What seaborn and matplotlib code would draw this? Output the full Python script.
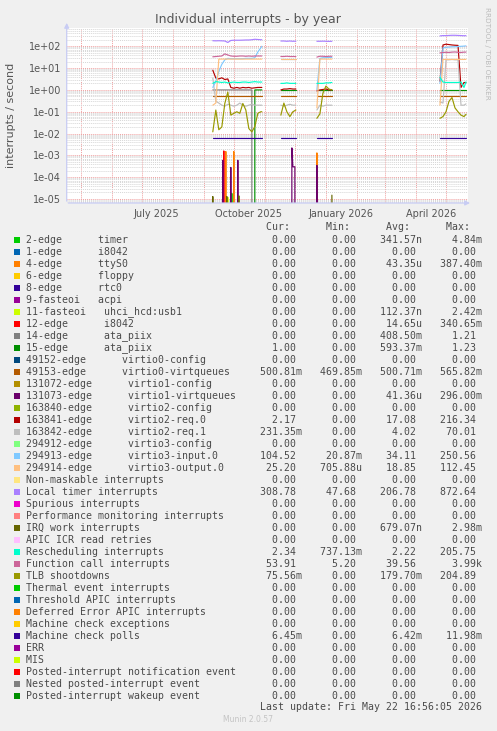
import numpy as np
import pandas as pd
import seaborn as sns
import matplotlib
matplotlib.use('Agg')
import matplotlib.pyplot as plt
import matplotlib.ticker as mticker
import matplotlib.dates as mdates
from matplotlib.patches import Rectangle

# ---- data (interrupts / second) ----
# the host only reported in four stretches, so the lines have gaps
seg1_dates = ['2025-09-10', '2025-09-13', '2025-09-16', '2025-09-19', '2025-09-22', '2025-09-25',
              '2025-09-28', '2025-10-01', '2025-10-04', '2025-10-07', '2025-10-10', '2025-10-13',
              '2025-10-16', '2025-10-19', '2025-10-22', '2025-10-25', '2025-10-28', '2025-10-29']
seg2_dates = ['2025-11-17', '2025-11-20', '2025-11-23', '2025-11-26', '2025-11-29', '2025-12-02']
seg3_dates = ['2025-12-23', '2025-12-26', '2025-12-29', '2026-01-01', '2026-01-04', '2026-01-07']
seg4_dates = ['2026-04-25', '2026-04-28', '2026-05-01', '2026-05-04', '2026-05-07', '2026-05-10',
              '2026-05-13', '2026-05-16', '2026-05-19', '2026-05-21']

ata14 = [1.0, 1.0, 1.0, 1.0, 1.0, 1.0, 1.0, 1.0, 1.0, 1.0, 1.0, 1.0, 1.0, 1.0, 0, 0, 0, 0,
         0, 0, 0, 0, 0, 0,
         0, 0, 0, 0, 0, 0,
         0, 0, 0, 0, 0, 0, 0, 0, 0, 0]
ata15 = [0, 0, 0, 0, 0, 0, 0, 0, 0, 0, 0, 0, 0, 0, 1.0, 1.0, 1.0, 1.0,
         1.0, 1.0, 1.0, 1.0, 1.0, 1.0,
         1.0, 1.0, 1.0, 1.0, 1.0, 1.0,
         1.0, 1.0, 1.0, 1.0, 1.0, 1.0, 1.0, 1.0, 1.0, 1.0]
virtio0_vq = [0.50, 0.50, 0.50, 0.50, 0.50, 0.50, 0.50, 0.50, 0.50, 0.50, 0.50, 0.50, 0.50, 0.50, 0.50, 0.50, 0.50, 0.50,
              0.50, 0.50, 0.50, 0.50, 0.50, 0.50,
              0.50, 0.50, 0.50, 0.50, 0.50, 0.50,
              0.50, 0.50, 0.50, 0.50, 0.50, 0.50, 0.50, 0.50, 0.50, 0.50]
virtio2_req0 = [8.0, 3.5, 3.2, 3.6, 3.0, 3.2, 1.3, 1.2, 1.3, 1.2, 1.3, 1.25, 1.3, 1.2, 1.25, 1.3, 1.3, 1.3,
                1.0, 1.1, 1.1, 1.15, 1.1, 1.1,
                0.9, 1.0, 1.05, 1.1, 1.0, 1.0,
                2.5, 115, 125, 120, 115, 112, 110, 1.3, 2.2, 2.17]
virtio2_req1 = [3.5, 0.3, 0.25, 0.2, 0.18, 0.22, 0.2, 0.18, 0.2, 0.25, 0.2, 0.18, 0.2, 0.22, 0.2, 0.2, 0.2, 0.2,
                0.2, 0.18, 0.2, 0.22, 0.2, 0.2,
                0.12, 0.2, 0.18, 0.2, 0.2, 0.2,
                0.28, 0.25, 24, 24, 25, 24, 24, 0.2, 0.2, 0.23]
virtio3_in = [1.3, 2.5, 7, 15, 24, 28, 27, 27, 27, 27, 27, 28, 28, 28, 30, 55, 85, 100,
              27, 27, 27, 27, 27, 27,
              1.0, 28, 30, 30, 31, 31,
              2.0, 85, 90, 92, 95, 95, 98, 100, 102, 104.5]
virtio3_out = [0.2, 0.25, 26, 26, 26, 26, 26, 26, 26, 26, 26, 26, 26, 26, 26, 26, 26, 26,
               26, 26, 26, 26, 26, 26,
               0.15, 26, 26, 26, 26, 26,
               0.2, 25, 25, 25, 25, 25, 25, 25, 25, 25.2]
local_timer = [180, 178, 180, 178, 175, 150, 185, 190, 190, 190, 192, 195, 195, 200, 210, 205, 200, 200,
               175, 175, 170, 175, 170, 172,
               170, 170, 172, 170, 168, 170,
               300, 310, 310, 315, 320, 320, 315, 310, 305, 308]
resched = [2.0, 2.4, 2.3, 2.2, 2.3, 2.1, 2.2, 2.3, 2.2, 2.2, 2.3, 2.3, 2.2, 2.3, 2.4, 2.3, 2.3, 2.3,
           2.0, 2.0, 2.1, 2.0, 2.0, 2.0,
           2.0, 2.0, 2.0, 2.1, 2.1, 2.2,
           3.8, 2.3, 2.2, 2.2, 2.2, 2.2, 2.2, 2.3, 1.3, 2.34]
func_call = [33, 34, 35, 36, 45, 40, 36, 35, 35, 36, 36, 35, 36, 35, 36, 36, 36, 36,
             34, 34, 35, 34, 34, 34,
             32, 35, 35, 34, 35, 35,
             50, 52, 53, 52, 54, 55, 53, 52, 54, 54]
tlb = [0.012, 0.12, 0.015, 0.02, 0.24, 0.8, 0.07, 0.085, 0.1, 0.085, 0.24, 0.12, 0.017, 0.012, 0.021, 0.085, 0.1, 0.1,
       0.07, 0.25, 0.1, 0.06, 0.1, 0.12,
       0.05, 0.08, 0.7, 1.5, 1.1, 1.0,
       0.05, 0.06, 0.1, 0.3, 0.45, 0.15, 0.1, 0.07, 0.06, 0.076]
mc_polls = [0.0065, 0.0065, 0.0065, 0.0065, 0.0065, 0.0065, 0.0065, 0.0065, 0.0065, 0.0065, 0.0065, 0.0065,
            0.0065, 0.0065, 0.0065, 0.0065, 0.0065, 0.0065,
            0.0065, 0.0065, 0.0065, 0.0065, 0.0065, 0.0065,
            0.0065, 0.0065, 0.0065, 0.0065, 0.0065, 0.0065,
            0.0065, 0.0065, 0.0065, 0.0065, 0.0065, 0.0065, 0.0065, 0.0065, 0.0065, 0.0065]

# short spikes near the bottom
timer_dates = ['2025-09-28', '2025-09-29', '2025-09-30']
timer_vals = [0, 1.8e-5, 0]
ttys0_dates = ['2025-09-22', '2025-09-23', '2025-09-24', '2025-09-30', '2025-10-01', '2025-10-02',
               '2025-12-22', '2025-12-23', '2025-12-24']
ttys0_vals = [0, 1.5e-3, 0, 0, 1.5e-3, 0, 0, 1.3e-3, 0]
usb_dates = ['2025-09-24', '2025-09-25', '2025-09-26']
usb_vals = [0, 1.2e-5, 0]
i8042_dates = ['2025-09-20', '2025-09-21', '2025-09-22']
i8042_vals = [0, 1.6e-3, 0]
virtio1_dates = ['2025-09-19', '2025-09-20', '2025-09-21', '2025-09-27', '2025-09-28', '2025-09-29',
                 '2025-10-04', '2025-10-05', '2025-10-06', '2025-11-27', '2025-11-28', '2025-11-29',
                 '2025-12-01', '2025-12-02', '2025-12-22', '2025-12-23', '2025-12-24']
virtio1_vals = [0, 6e-4, 0, 0, 2.8e-4, 0, 0, 6e-4, 0, 0, 2.2e-3, 3e-4, 3e-4, 0, 0, 3.5e-4, 0]
irqwork_dates = ['2025-09-09', '2025-09-10', '2025-09-11', '2025-09-23', '2025-09-24', '2025-09-25',
                 '2025-10-05', '2025-10-06', '2025-10-07', '2026-01-06', '2026-01-07']
irqwork_vals = [0, 1.3e-5, 0, 0, 1.3e-5, 0, 0, 1.4e-5, 0, 0, 1.5e-5]

# ---- legend table ----
names = ['2-edge      timer', '1-edge      i8042', '4-edge      ttyS0', '6-edge      floppy',
         '8-edge      rtc0', '9-fasteoi   acpi', '11-fasteoi   uhci_hcd:usb1', '12-edge      i8042',
         '14-edge      ata_piix', '15-edge      ata_piix', '49152-edge      virtio0-config',
         '49153-edge      virtio0-virtqueues', '131072-edge      virtio1-config',
         '131073-edge      virtio1-virtqueues', '163840-edge      virtio2-config',
         '163841-edge      virtio2-req.0', '163842-edge      virtio2-req.1',
         '294912-edge      virtio3-config', '294913-edge      virtio3-input.0',
         '294914-edge      virtio3-output.0', 'Non-maskable interrupts', 'Local timer interrupts',
         'Spurious interrupts', 'Performance monitoring interrupts', 'IRQ work interrupts',
         'APIC ICR read retries', 'Rescheduling interrupts', 'Function call interrupts',
         'TLB shootdowns', 'Thermal event interrupts', 'Threshold APIC interrupts',
         'Deferred Error APIC interrupts', 'Machine check exceptions', 'Machine check polls',
         'ERR', 'MIS', 'Posted-interrupt notification event', 'Nested posted-interrupt event',
         'Posted-interrupt wakeup event']
colors = ['#00CC00', '#0066B3', '#FF8000', '#FFCC00', '#330099', '#990099', '#CCFF00', '#FF0000',
          '#808080', '#008F00', '#00487D', '#B35A00', '#B38F00', '#6B006B', '#8FB300', '#B30000',
          '#BEBEBE', '#80FF80', '#80C9FF', '#FFC080', '#FFE680', '#AA80FF', '#EE00CC', '#FF8080',
          '#666600', '#FFBFFF', '#00FFCC', '#CC6699', '#999900', '#00CC00', '#0066B3', '#FF8000',
          '#FFCC00', '#330099', '#990099', '#CCFF00', '#FF0000', '#808080', '#008F00']
cur = ['0.00', '0.00', '0.00', '0.00', '0.00', '0.00', '0.00', '0.00', '0.00', '1.00', '0.00',
       '500.81m', '0.00', '0.00', '0.00', '2.17', '231.35m', '0.00', '104.52', '25.20', '0.00',
       '308.78', '0.00', '0.00', '0.00', '0.00', '2.34', '53.91', '75.56m', '0.00', '0.00', '0.00',
       '0.00', '6.45m', '0.00', '0.00', '0.00', '0.00', '0.00']
mins = ['0.00', '0.00', '0.00', '0.00', '0.00', '0.00', '0.00', '0.00', '0.00', '0.00', '0.00',
        '469.85m', '0.00', '0.00', '0.00', '0.00', '0.00', '0.00', '20.87m', '705.88u', '0.00',
        '47.68', '0.00', '0.00', '0.00', '0.00', '737.13m', '5.20', '0.00', '0.00', '0.00', '0.00',
        '0.00', '0.00', '0.00', '0.00', '0.00', '0.00', '0.00']
avgs = ['341.57n', '0.00', '43.35u', '0.00', '0.00', '0.00', '112.37n', '14.65u', '408.50m',
        '593.37m', '0.00', '500.71m', '0.00', '41.36u', '0.00', '17.08', '4.02', '0.00', '34.11',
        '18.85', '0.00', '206.78', '0.00', '0.00', '679.07n', '0.00', '2.22', '39.56', '179.70m',
        '0.00', '0.00', '0.00', '0.00', '6.42m', '0.00', '0.00', '0.00', '0.00', '0.00']
maxs = ['4.84m', '0.00', '387.40m', '0.00', '0.00', '0.00', '2.42m', '340.65m', '1.21', '1.23',
        '0.00', '565.82m', '0.00', '296.00m', '0.00', '216.34', '70.01', '0.00', '250.56', '112.45',
        '0.00', '872.64', '0.00', '0.00', '2.98m', '0.00', '205.75', '3.99k', '204.89', '0.00',
        '0.00', '0.00', '0.00', '11.98m', '0.00', '0.00', '0.00', '0.00', '0.00']

x_tick_dates = ['2025-07-16', '2025-10-16', '2026-01-16', '2026-04-16']
x_tick_labels = ['July 2025', 'October 2025', 'January 2026', 'April 2026']

# ---- build long table ----
seg_dates = [seg1_dates, seg2_dates, seg3_dates, seg4_dates]
grid_dates = [d for s in seg_dates for d in s]
grid_unit = [i for i, s in enumerate(seg_dates) for _ in s]

dense = {
    '14-edge': ata14, '15-edge': ata15, '49153-edge': virtio0_vq,
    '163841-edge': virtio2_req0, '163842-edge': virtio2_req1,
    '294913-edge': virtio3_in, '294914-edge': virtio3_out,
    'Local timer': local_timer, 'Rescheduling': resched, 'Function call': func_call,
    'TLB': tlb, 'MC polls': mc_polls,
}
sparse = {
    '2-edge': (timer_dates, timer_vals), '4-edge': (ttys0_dates, ttys0_vals),
    '11-fasteoi': (usb_dates, usb_vals), '12-edge': (i8042_dates, i8042_vals),
    '131073-edge': (virtio1_dates, virtio1_vals), 'IRQ work': (irqwork_dates, irqwork_vals),
}
palette = {'2-edge': '#00CC00', '4-edge': '#FF8000', '11-fasteoi': '#CCFF00', '12-edge': '#FF0000',
           '14-edge': '#808080', '15-edge': '#008F00', '49153-edge': '#B35A00',
           '131073-edge': '#6B006B', '163841-edge': '#B30000', '163842-edge': '#BEBEBE',
           '294913-edge': '#80C9FF', '294914-edge': '#FFC080', 'Local timer': '#AA80FF',
           'IRQ work': '#666600', 'Rescheduling': '#00FFCC', 'Function call': '#CC6699',
           'TLB': '#999900', 'MC polls': '#330099'}
draw_order = list(palette.keys())

frames = []
for name, vals in dense.items():
    frames.append(pd.DataFrame({'date': pd.to_datetime(grid_dates), 'value': vals,
                                'series': name, 'unit': grid_unit}))
for name, (d, v) in sparse.items():
    frames.append(pd.DataFrame({'date': pd.to_datetime(d), 'value': v, 'series': name, 'unit': 0}))
df = pd.concat(frames, ignore_index=True)

# ---- style ----
sns.set_theme(style='white')
plt.rcParams['font.family'] = ['DejaVu Sans']
txt = '#555555'
W, H = 497, 731

fig = plt.figure(figsize=(W / 100, H / 100), dpi=100, facecolor='#F0F0F0')
ax = fig.add_axes([66.7 / W, 1 - 203 / H, 401.3 / W, 175 / H])
ax.set_facecolor('white')

sns.lineplot(data=df, x='date', y='value', hue='series', units='unit', estimator=None,
             hue_order=draw_order, palette=palette, legend=False, linewidth=0.85, ax=ax)

ax.set_yscale('log')
ax.set_ylim(10 ** -5.183, 10 ** 2.839)
ax.set_xlim(pd.Timestamp('2025-04-17'), pd.Timestamp('2026-05-23'))
ax.set_xlabel('')
ax.set_ylabel('')

ax.yaxis.set_major_locator(mticker.FixedLocator([1e-5, 1e-4, 1e-3, 1e-2, 1e-1, 1e0, 1e1, 1e2]))
ax.yaxis.set_major_formatter(mticker.FuncFormatter(lambda v, p: f'{v:.0e}'))
ax.yaxis.set_minor_locator(mticker.LogLocator(base=10, subs=np.arange(2, 10), numticks=30))
ax.yaxis.set_minor_formatter(mticker.NullFormatter())

ax.set_xticks(pd.to_datetime(x_tick_dates))
ax.set_xticklabels(x_tick_labels)
ax.xaxis.set_minor_locator(mdates.MonthLocator())

dot = (0, (1, 1))
ax.yaxis.grid(True, which='minor', color='#D6D6D6', linestyle=dot, linewidth=0.7)
ax.yaxis.grid(True, which='major', color='#F0A0A0', linestyle=dot, linewidth=0.7)
ax.xaxis.grid(True, which='minor', color='#F0A0A0', linestyle=dot, linewidth=0.7)
ax.xaxis.grid(False, which='major')
ax.set_axisbelow(True)
ax.tick_params(which='both', length=0, colors=txt, labelsize=7)
ax.tick_params(axis='y', pad=4)
ax.tick_params(axis='x', pad=4)
for s in ax.spines.values():
    s.set_visible(False)

axis_col = '#C8CCF4'
ax.annotate('', xy=(0, 1.045), xytext=(0, -0.005), xycoords='axes fraction',
            arrowprops=dict(arrowstyle='-|>', color=axis_col, lw=0.9, mutation_scale=7))
ax.annotate('', xy=(1.012, 0), xytext=(-0.003, 0), xycoords='axes fraction',
            arrowprops=dict(arrowstyle='-|>', color=axis_col, lw=0.9, mutation_scale=7))

fig.text(248 / W, 1 - 19.3 / H, 'Individual interrupts - by year', ha='center', va='center',
         fontsize=9, color=txt)
fig.text(11 / W, 1 - 115 / H, 'interrupts / second', rotation=90, ha='center', va='center',
         fontsize=8, color=txt)
fig.text(487.5 / W, 1 - 53 / H, 'RRDTOOL / TOBI OETIKER', rotation=270, ha='center', va='center',
         fontsize=5.2, color='#BBBBBB')

# ---- legend table in monospace ----
def fld(v):
    s = v if not v[-1].isdigit() else v + ' '
    return s.rjust(10)

mono = dict(family='DejaVu Sans Mono', fontsize=7.15, color='#4A4A4A', va='center', ha='left')
x0 = 26.3 / W
header = ' ' * 36 + ''.join(h.rjust(8) + '  ' for h in ['Cur:', 'Min:', 'Avg:', 'Max:'])
fig.text(x0, 1 - 227.3 / H, header, **mono)
for i, name in enumerate(names):
    y = 239.7 + 12 * i
    row = name.ljust(36) + fld(cur[i]) + fld(mins[i]) + fld(avgs[i]) + fld(maxs[i])
    fig.text(x0, 1 - y / H, row, **mono)
    fig.patches.append(Rectangle((14 / W, 1 - (y + 3) / H), 6 / W, 6 / H,
                                 transform=fig.transFigure, facecolor=colors[i], edgecolor='none'))
fig.text(x0, 1 - 707.3 / H, 'Last update: Fri May 22 16:56:05 2026'.rjust(76), **mono)
fig.text(248 / W, 1 - 720 / H, 'Munin 2.0.57', ha='center', va='center', fontsize=5.5, color='#C4C4C4')

fig.savefig('out.png', dpi=100, facecolor=fig.get_facecolor())
